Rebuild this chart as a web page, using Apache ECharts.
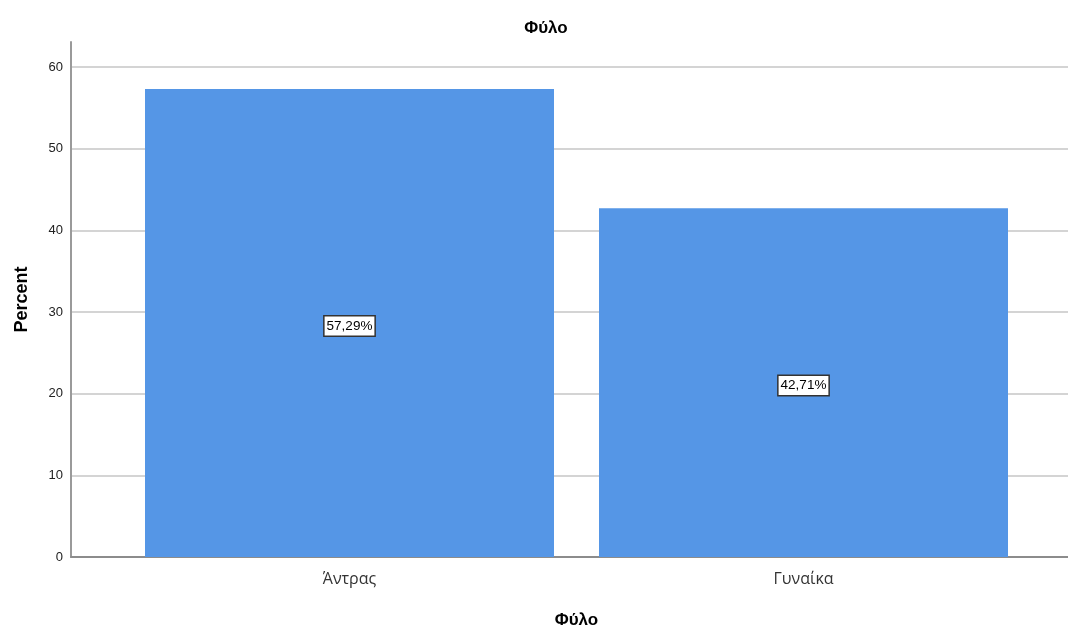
<!DOCTYPE html>
<html>
<head>
<meta charset="utf-8">
<script src="https://cdn.jsdelivr.net/npm/echarts@6/dist/echarts.min.js"></script>
<style>
html,body{margin:0;padding:0;background:#fff;}
#c{width:1068px;height:628px;}
</style>
</head>
<body>
<div id="c"></div>
<script>
const categories = ['Άντρας', 'Γυναίκα'];
const percentValues = [57.29, 42.71];
const yTicks = [0, 10, 20, 30, 40, 50, 60];

const chart = echarts.init(document.getElementById('c'));
const yMax = 63.06;
chart.setOption({
  animation: false,
  title: {
    text: 'Φύλο',
    left: 541,
    top: 15,
    textAlign: 'center',
    textStyle: {fontFamily: 'Liberation Sans, Arial, sans-serif', fontWeight: 'bold', fontSize: 17, color: '#000'}
  },
  grid: [
    {left: 71, right: 0, top: 42, bottom: 71, outerBoundsMode: 'none', containLabel: false},
    {left: 122.5, right: 37.5, top: 42, bottom: 71, outerBoundsMode: 'none', containLabel: false}
  ],
  xAxis: [
    {
      gridIndex: 0, type: 'value', min: 0, max: 1,
      axisLine: {show: true, onZero: false, lineStyle: {color: '#8c8c8c', width: 2}},
      axisTick: {show: false}, axisLabel: {show: false}, splitLine: {show: false}
    },
    {
      gridIndex: 1, type: 'category', data: categories,
      axisLine: {show: false}, axisTick: {show: false},
      axisLabel: {margin: 14, fontFamily: 'Open Sans, sans-serif', fontSize: 16, color: '#333'},
      name: 'Φύλο', nameLocation: 'middle', nameGap: 55,
      nameTextStyle: {fontFamily: 'Liberation Sans, Arial, sans-serif', fontWeight: 'bold', fontSize: 17, color: '#000'}
    }
  ],
  yAxis: [
    {
      gridIndex: 0, type: 'value', min: 0, max: yMax, interval: 10,
      axisLine: {show: true, lineStyle: {color: '#9a9a9a', width: 2}},
      axisTick: {show: false},
      axisLabel: {
        showMaxLabel: false, margin: 8,
        fontFamily: 'Liberation Sans, Arial, sans-serif', fontSize: 13, color: '#222',
        formatter: function (v) { return yTicks.indexOf(v) >= 0 ? String(v) : ''; }
      },
      splitLine: {show: true, showMaxLine: false, lineStyle: {color: '#d4d4d4', width: 2}},
      name: 'Percent', nameLocation: 'middle', nameGap: 40,
      nameTextStyle: {fontFamily: 'Liberation Sans, Arial, sans-serif', fontWeight: 'bold', fontSize: 18, color: '#000'}
    },
    {
      gridIndex: 1, type: 'value', min: 0, max: yMax,
      axisLine: {show: false}, axisTick: {show: false}, axisLabel: {show: false}, splitLine: {show: false}
    }
  ],
  series: [{
    type: 'bar',
    xAxisIndex: 1, yAxisIndex: 1,
    data: percentValues,
    barWidth: 409,
    itemStyle: {color: '#5596e6'},
    label: {
      show: true, position: 'inside', offset: [0, 3],
      formatter: function (p) { return p.value.toFixed(2).replace('.', ',') + '%'; },
      fontFamily: 'Liberation Sans, Arial, sans-serif', fontSize: 13.5, color: '#000',
      backgroundColor: '#fff', borderColor: '#333', borderWidth: 1.5, padding: [3, 2, 2, 2]
    }
  }]
});
</script>
</body>
</html>
